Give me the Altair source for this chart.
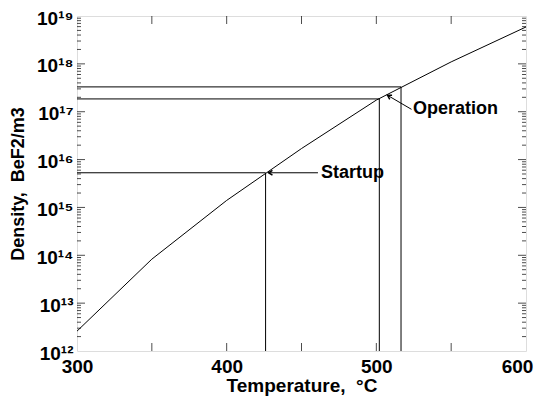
import altair as alt
import pandas as pd

# Curve data
temps = [300, 350, 400, 450, 500, 550, 600]
density = [2.6e12, 8.3e13, 1.4e15, 1.7e16, 1.75e17, 1.1e18, 5.9e18]

# Reference (startup / operation) points
ref_names = ["Startup", "Operation", "Operation"]
ref_temp = [426, 502, 516.5]
ref_dens = [5.3e15, 1.85e17, 3.3e17]

# Annotation labels and arrows
label_text = ["Startup", "Operation"]
label_temp = [463, 524.5]
label_dens = [5.3e15, 1.15e17]
arrow_tail_temp = [461, 523.5]
arrow_tail_dens = [5.3e15, 1.12e17]
arrow_head_temp = [428, 507.5]
arrow_head_dens = [5.3e15, 2.2e17]
arrow_angle = [0, 30]

# Axis ticks
x_tick_vals = [350, 400, 450, 500, 550]
y_major = [10.0 ** k for k in range(13, 19)]
y_minor = [m * 10.0 ** k for k in range(12, 19) for m in range(2, 10)]

XMIN, XMAX = 300, 600
YMIN, YMAX = 1e12, 1e19

FONT = "Liberation Sans"

xscale = alt.Scale(domain=[XMIN, XMAX], nice=False, zero=False)
yscale = alt.Scale(type="log", domain=[YMIN, YMAX], nice=False)

sup_expr = ("'10' + ['\u00b9\u00b2','\u00b9\u00b3','\u00b9\u2074','\u00b9\u2075','\u00b9\u2076',"
            "'\u00b9\u2077','\u00b9\u2078','\u00b9\u2079'][round(log(datum.value)/LN10)-12]")

xaxis = alt.Axis(values=[300, 400, 500, 600], format="d", ticks=False, domain=False, grid=False,
                 labelFont=FONT, labelFontWeight="bold", labelFontSize=19, labelColor="black",
                 labelPadding=6, labelFlush=False,
                 labelOffset={"condition": {"test": "datum.value >= 600", "value": -9}, "value": 0},
                 title="Temperature,\u00a0\u00a0\u00b0C", titleFont=FONT,
                 titleFontWeight="bold", titleFontSize=19, titleColor="black", titlePadding=0)
yaxis = alt.Axis(values=[10.0 ** k for k in range(12, 20)], labelExpr=sup_expr, ticks=False,
                 domain=False, grid=False, labelFont=FONT, labelFontWeight="bold",
                 labelFontSize=19, labelColor="black", labelPadding=4, labelFlush=False,
                 labelOffset=2,
                 title="Density,\u00a0\u00a0BeF2/m3", titleFont=FONT, titleFontWeight="bold",
                 titleFontSize=18, titleColor="black", titlePadding=9)

X = lambda f: alt.X(f, type="quantitative", scale=xscale, axis=xaxis)
Y = lambda f: alt.Y(f, type="quantitative", scale=yscale, axis=yaxis)

curve_df = pd.DataFrame({"T": temps, "D": density})
curve = alt.Chart(curve_df).mark_line(color="black", strokeWidth=1, clip=True).encode(
    x=X("T"), y=Y("D"))

ref_df = pd.DataFrame({"name": ref_names, "T": ref_temp, "D": ref_dens,
                       "T0": [XMIN] * 3, "D0": [YMIN] * 3})
hrules = alt.Chart(ref_df).mark_rule(color="black", strokeWidth=1).encode(
    x=X("T0"), x2="T:Q", y=Y("D"))
vrules = alt.Chart(ref_df).mark_rule(color="black", strokeWidth=1).encode(
    x=X("T"), y=Y("D0"), y2="D:Q")

lab_df = pd.DataFrame({"text": label_text, "T": label_temp, "D": label_dens})
labels = alt.Chart(lab_df).mark_text(align="left", baseline="middle", font=FONT,
                                     fontWeight="bold", fontSize=18, color="black").encode(
    x=X("T"), y=Y("D"), text="text:N")

arr_df = pd.DataFrame({"T": arrow_tail_temp, "D": arrow_tail_dens,
                       "T2": arrow_head_temp, "D2": arrow_head_dens, "angle": arrow_angle})
shafts = alt.Chart(arr_df).mark_rule(color="black", strokeWidth=1).encode(
    x=X("T"), y=Y("D"), x2="T2:Q", y2="D2:Q")
heads = alt.Chart(arr_df).mark_point(shape="M 1 -0.6 L 0 0 L 1 0.6", filled=False,
                                     color="black", strokeWidth=1.5, size=60, opacity=1).encode(
    x=X("T2"), y=Y("D2"), angle=alt.Angle("angle:Q", scale=None))

# inward frame ticks
xt_df = pd.DataFrame({"T": x_tick_vals, "lo": [YMIN] * len(x_tick_vals),
                      "hi": [YMAX] * len(x_tick_vals)})
xt_bottom = alt.Chart(xt_df).mark_tick(orient="vertical", color="black", size=8, thickness=1,
                                       yOffset=-4).encode(x=X("T"), y=Y("lo"))
xt_top = alt.Chart(xt_df).mark_tick(orient="vertical", color="black", size=8, thickness=1,
                                    yOffset=4).encode(x=X("T"), y=Y("hi"))
ymaj_df = pd.DataFrame({"D": y_major, "lo": [XMIN] * len(y_major), "hi": [XMAX] * len(y_major)})
ymin_df = pd.DataFrame({"D": y_minor, "lo": [XMIN] * len(y_minor), "hi": [XMAX] * len(y_minor)})
yt_l_maj = alt.Chart(ymaj_df).mark_tick(orient="horizontal", color="black", size=8, thickness=1,
                                        xOffset=4).encode(y=Y("D"), x=X("lo"))
yt_r_maj = alt.Chart(ymaj_df).mark_tick(orient="horizontal", color="black", size=8, thickness=1,
                                        xOffset=-4).encode(y=Y("D"), x=X("hi"))
yt_l_min = alt.Chart(ymin_df).mark_tick(orient="horizontal", color="black", size=4, thickness=1,
                                        xOffset=2).encode(y=Y("D"), x=X("lo"))
yt_r_min = alt.Chart(ymin_df).mark_tick(orient="horizontal", color="black", size=4, thickness=1,
                                        xOffset=-2).encode(y=Y("D"), x=X("hi"))

chart = alt.layer(curve, hrules, vrules, shafts, heads, labels, xt_bottom, xt_top,
                  yt_l_maj, yt_r_maj, yt_l_min, yt_r_min).properties(
    width=449, height=335,
    autosize=alt.AutoSizeParams(type="none"),
    padding={"left": 69, "top": 8, "right": 8, "bottom": 46},
).configure_view(stroke="black", strokeWidth=1.5).configure(background="white")

chart.save("out.html", embed_options={"renderer": "svg", "actions": False})
